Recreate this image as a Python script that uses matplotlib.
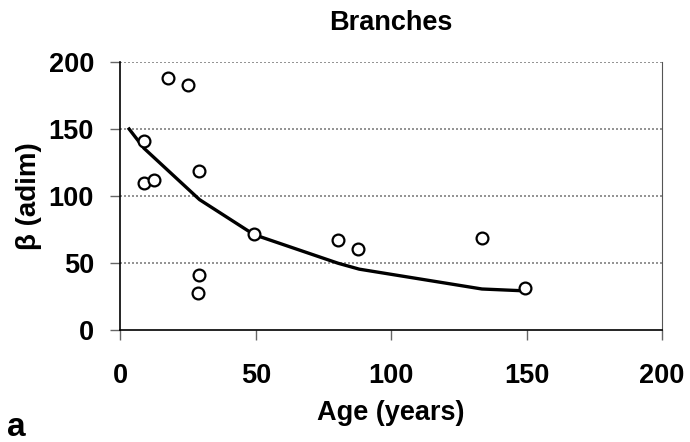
import matplotlib
matplotlib.use("Agg")
import matplotlib.pyplot as plt

plt.rcParams['font.family'] = ['Liberation Sans', 'DejaVu Sans']
plt.rcParams['font.weight'] = 'bold'

# observed points
age = [8.7, 8.7, 12.3, 17.5, 24.9, 29.1, 29.1, 28.8, 49.3, 80.4, 87.8, 133.4, 149.5]
beta = [141, 109.7, 112, 188, 183, 118.6, 41, 27.9, 71.4, 67.1, 60.7, 68.4, 31.6]

# fitted curve
fit_age = [3.2, 8.7, 29.2, 49.3, 80.4, 88.2, 133.5, 149.4]
fit_beta = [150, 135.6, 97.3, 71.2, 49.8, 45.4, 30.6, 29.2]

fig = plt.figure(figsize=(6.9, 4.42), dpi=100)
ax = fig.add_axes([0.1746, 0.2534, 0.7848, 0.6063])

ax.plot(fit_age, fit_beta, color='black', lw=2.4, zorder=3)
ax.plot(age, beta, 'o', ms=8.5, mfc='white', mec='black', mew=1.6, zorder=4)

ax.set_xlim(0, 200)
ax.set_ylim(0, 200)
ax.set_xticks([0, 50, 100, 150, 200])
ax.set_yticks([0, 50, 100, 150, 200])
for yv in [50, 100, 150, 200]:
    ax.axhline(yv, color='#808080', lw=1.2, ls=(0, (1.2, 1.2)), zorder=1)

ax.spines['top'].set_visible(False)
ax.spines['right'].set_color('#555555')
ax.spines['left'].set_color('black')
ax.spines['bottom'].set_color('black')
ax.spines['left'].set_linewidth(1.2)
ax.spines['bottom'].set_linewidth(1.2)
ax.tick_params(axis='both', direction='out', length=7, width=1, color='#666666',
               labelsize=19.5)
ax.tick_params(axis='y', pad=12)
ax.tick_params(axis='x', pad=17)
for lab in ax.get_xticklabels() + ax.get_yticklabels():
    lab.set_fontweight('bold')

ax.set_title("Branches", fontsize=19.5, fontweight='bold', pad=23)
ax.set_xlabel("Age (years)", fontsize=19.5, fontweight='bold', labelpad=8)
ax.set_ylabel("β (adim)", fontsize=20, fontweight='bold', labelpad=5)
fig.text(0.01, 0.014, "a", fontsize=24, fontweight='bold')

fig.savefig("out.png", dpi=100)
